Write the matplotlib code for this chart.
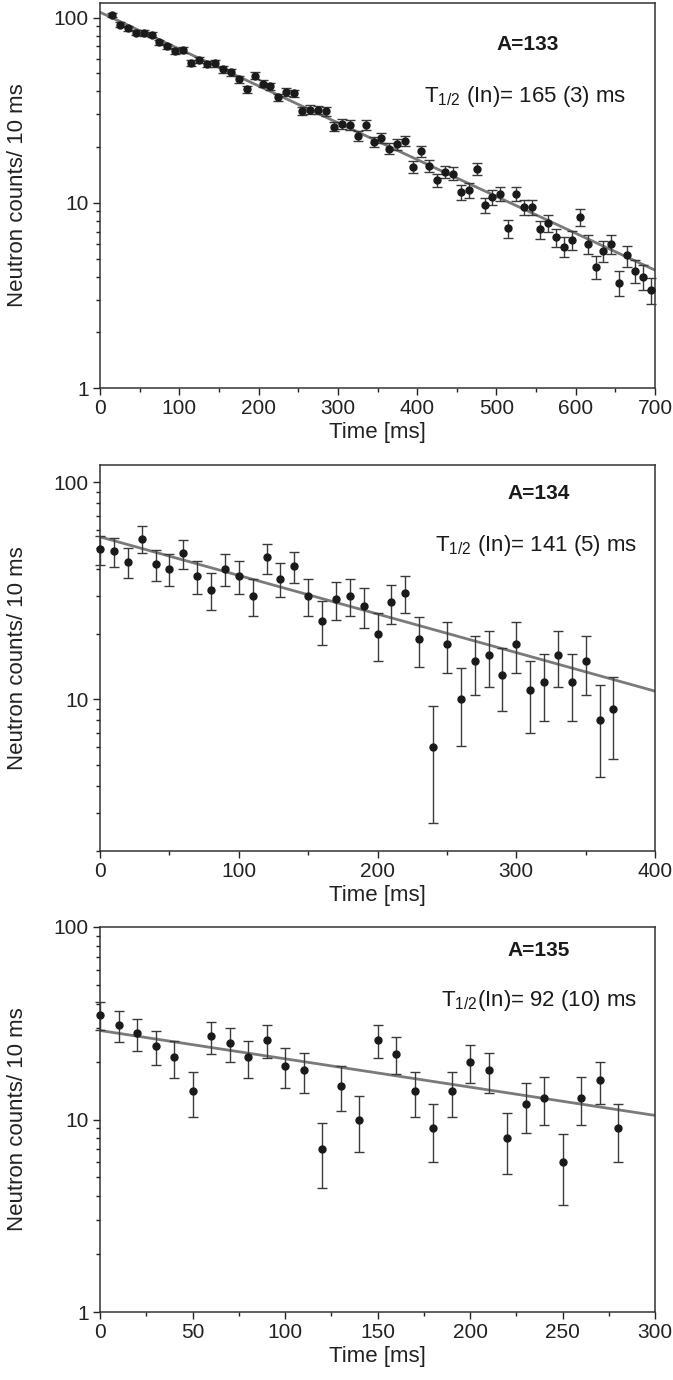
import numpy as np
import matplotlib
matplotlib.use("Agg")
import matplotlib.pyplot as plt
from matplotlib.ticker import FixedLocator, MultipleLocator, LogLocator, NullFormatter

plt.rcParams['font.family'] = ['Liberation Sans', 'DejaVu Sans']
plt.rcParams['mathtext.fontset'] = 'custom'
plt.rcParams['mathtext.rm'] = 'Liberation Sans'
plt.rcParams['mathtext.it'] = 'Liberation Sans'

# ---- A=133 ----
t133 = [15, 25, 35, 45, 55, 65, 75, 85, 95, 105, 115, 125, 135, 145, 155, 165, 175,
        185, 195, 205, 215, 225, 235, 245, 255, 265, 275, 285, 295, 305, 315, 325,
        335, 345, 355, 365, 375, 385, 395, 405, 415, 425, 435, 445, 455, 465, 475,
        485, 495, 505, 515, 525, 535, 545, 555, 565, 575, 585, 595, 605, 615, 625,
        635, 645, 655, 665, 675, 685, 695]
n133 = [103.5, 91.4, 87.5, 83, 82.7, 80.9, 73.5, 69.9, 66.3, 67.2, 56.9, 59, 56.4,
        56.6, 52.6, 50.6, 46.4, 41, 48.6, 44, 42.5, 37.1, 39.8, 39, 31.4, 31.9, 31.7,
        31.3, 25.8, 26.7, 26.4, 23.1, 26.3, 21.4, 22.5, 19.6, 20.7, 21.6, 15.7, 19.0,
        15.85, 13.3, 14.7, 14.4, 11.4, 11.7, 15.3, 9.7, 10.7, 11.2, 7.3, 11.2, 9.5,
        9.5, 7.2, 7.8, 6.5, 5.8, 6.3, 8.4, 6.0, 4.5, 5.5, 6.0, 3.7, 5.2, 4.3, 4.0, 3.4]
e133 = [3.05, 2.87, 2.81, 2.73, 2.73, 2.70, 2.57, 2.51, 2.44, 2.46, 2.26, 2.30, 2.25,
        2.26, 2.18, 2.13, 2.04, 1.92, 2.09, 1.99, 1.96, 1.83, 1.89, 1.87, 1.68, 1.69,
        1.69, 1.68, 1.52, 1.55, 1.54, 1.44, 1.54, 1.39, 1.42, 1.33, 1.36, 1.39, 1.19,
        1.31, 1.19, 1.09, 1.15, 1.14, 1.01, 1.03, 1.17, 0.93, 0.98, 1.00, 0.81, 1.00,
        0.92, 0.92, 0.80, 0.84, 0.76, 0.72, 0.75, 0.87, 0.73, 0.64, 0.70, 0.73, 0.58,
        0.68, 0.62, 0.60, 0.55]
fit133_t = [0, 700]
fit133_n = [107, 4.33]

# ---- A=134 ----
t134 = [0, 10, 20, 30, 40, 50, 60, 70, 80, 90, 100, 110, 120, 130, 140, 150, 160,
        170, 180, 190, 200, 210, 220, 230, 240, 250, 260, 270, 280, 290, 300, 310,
        320, 330, 340, 350, 360, 370]
n134 = [49, 48, 43, 55, 42, 40, 47, 37, 32, 40, 37, 30, 45, 36, 41, 30, 23, 29, 30,
        27, 20, 28, 31, 19, 6, 18, 10, 15, 16, 13, 18, 11, 12, 16, 12, 15, 8, 9]
e134 = [7.3, 7.3, 6.9, 7.7, 6.9, 6.7, 7.2, 6.5, 6.1, 6.7, 6.5, 5.9, 7.1, 6.4, 6.8,
        5.9, 5.3, 5.8, 5.9, 5.7, 5.0, 5.7, 6.0, 4.9, 3.3, 4.8, 3.9, 4.5, 4.6, 4.2, 4.8,
        4.0, 4.1, 4.6, 4.1, 4.5, 3.6, 3.7]
fit134_t = [0, 400]
fit134_n = [56, 10.9]

# ---- A=135 ----
t135 = [0, 10, 20, 30, 40, 50, 60, 70, 80, 90, 100, 110, 120, 130, 140, 150, 160,
        170, 180, 190, 200, 210, 220, 230, 240, 250, 260, 270, 280]
n135 = [35, 31, 28, 24, 21, 14, 27, 25, 21, 26, 19, 18, 7, 15, 10, 26, 22, 14, 9, 14,
        20, 18, 8, 12, 13, 6, 13, 16, 9]
e135 = [5.9, 5.6, 5.3, 4.9, 4.6, 3.7, 5.2, 5.0, 4.6, 5.1, 4.4, 4.2, 2.6, 3.9, 3.2,
        5.1, 4.7, 3.7, 3.0, 3.7, 4.5, 4.2, 2.8, 3.5, 3.6, 2.4, 3.6, 4.0, 3.0]
fit135_t = [0, 300]
fit135_n = [29, 10.5]

panels = [
    dict(t=t133, n=n133, e=e133, ft=fit133_t, fn=fit133_n, xlim=(0, 700), ylim=(1, 120),
         xmaj=100, xmin=50, ylabels=[1, 10, 100], title='A=133',
         half=r'T$_{\mathregular{1/2}}$ (In)= 165 (3) ms', ay=0.891, ty=0.756, ax_=0.77, tx=0.948,
         rect=[100/673, 1-388/1380, 555/673, 385/1380]),
    dict(t=t134, n=n134, e=e134, ft=fit134_t, fn=fit134_n, xlim=(0, 400), ylim=(2, 120),
         xmaj=100, xmin=50, ylabels=[10, 100], title='A=134',
         half=r'T$_{\mathregular{1/2}}$ (In)= 141 (5) ms', ay=0.927, ty=0.792, ax_=0.79, tx=0.968,
         rect=[100/673, 1-851/1380, 555/673, 386/1380]),
    dict(t=t135, n=n135, e=e135, ft=fit135_t, fn=fit135_n, xlim=(0, 300), ylim=(1, 100),
         xmaj=50, xmin=25, ylabels=[1, 10, 100], title='A=135',
         half=r'T$_{\mathregular{1/2}}$(In)= 92 (10) ms', ay=0.94, ty=0.808, ax_=0.79, tx=0.968,
         rect=[100/673, 1-1312/1380, 555/673, 385/1380]),
]

fig = plt.figure(figsize=(6.73, 13.8), dpi=100)

for p in panels:
    ax = fig.add_axes(p['rect'])
    ax.set_yscale('log')
    ax.plot(p['ft'], p['fn'], color='#7a7a7a', lw=2.0, zorder=2)
    ax.errorbar(p['t'], p['n'], yerr=p['e'], fmt='o', color='#1a1a1a', ms=5,
                ecolor='#3a3a3a', elinewidth=1.0, capsize=3.5, capthick=1.0, zorder=3,
                clip_on=False)
    ax.set_xlim(*p['xlim'])
    ax.set_ylim(*p['ylim'])
    ax.xaxis.set_major_locator(MultipleLocator(p['xmaj']))
    ax.xaxis.set_minor_locator(MultipleLocator(p['xmin']))
    ax.yaxis.set_major_locator(FixedLocator(p['ylabels']))
    ax.yaxis.set_major_formatter(plt.FuncFormatter(lambda v, pos: '%d' % v))
    ax.yaxis.set_minor_locator(LogLocator(base=10, subs=np.arange(2, 10)))
    ax.yaxis.set_minor_formatter(NullFormatter())
    ax.tick_params(which='major', direction='out', length=5, width=1.0, labelsize=15,
                   colors='#222222', pad=3)
    ax.tick_params(which='minor', direction='out', length=3, width=1.0, colors='#222222')
    for s in ax.spines.values():
        s.set_color('#333333')
        s.set_linewidth(1.1)
    ax.set_xlabel('Time [ms]', fontsize=16, color='#222222')
    ax.set_ylabel('Neutron counts/ 10 ms', fontsize=16, color='#222222')
    ax.yaxis.set_label_coords(-0.13, 0.5)
    ax.xaxis.set_label_coords(0.5, -0.088)
    ax.text(p['ax_'], p['ay'], p['title'], transform=ax.transAxes, ha='center',
            va='center', fontsize=15, fontweight='bold', color='#1a1a1a')
    ax.text(p['tx'], p['ty'], p['half'], transform=ax.transAxes, ha='right',
            va='center', fontsize=16, color='#1a1a1a')

fig.savefig('out.png', dpi=100)
